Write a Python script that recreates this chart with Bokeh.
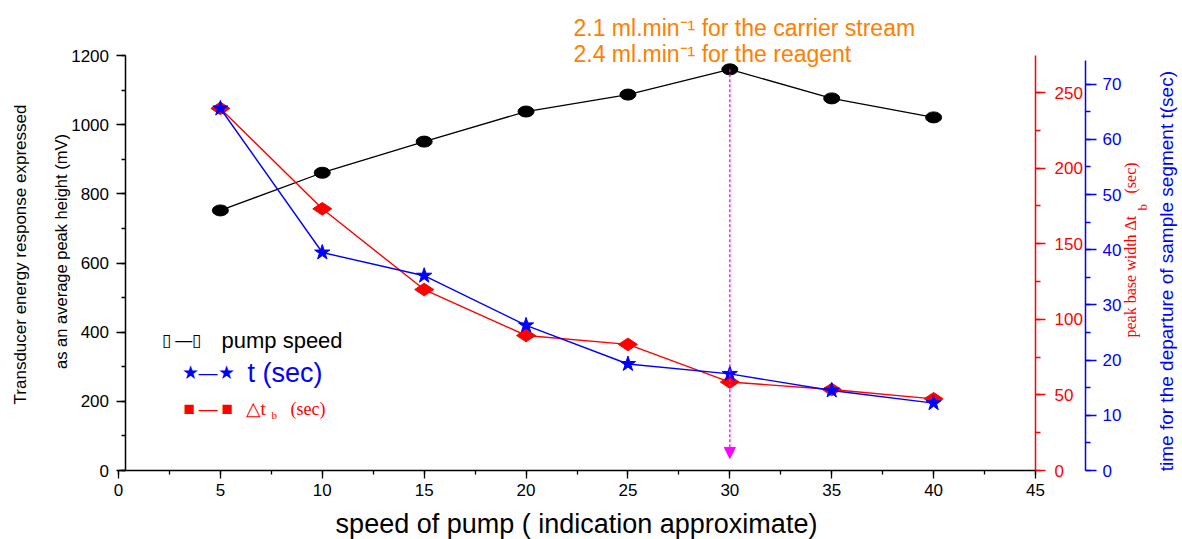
import numpy as np
from bokeh.plotting import figure
from bokeh.models import (Range1d, LinearAxis, SingleIntervalTicker, Label,
                          Arrow, NormalHead)
from bokeh.embed import file_html
from bokeh.resources import INLINE

# ---------------- data ----------------
speed = [5, 10, 15, 20, 25, 30, 35, 40]                       # speed of pump
pump_mv = [752, 861, 951, 1038, 1087, 1160, 1076, 1021]       # peak height (mV)
peak_width_s = [239.5, 173.1, 119.7, 89.3, 83.4, 58.5, 53.6, 47.4]  # Δt_b (sec)
t_sec = [65.6, 39.5, 35.3, 26.3, 19.3, 17.5, 14.5, 12.2]      # t (sec)

arrow_x = 30
arrow_top = 1160
arrow_bottom = 35

x_bounds = (0, 45)
left_bounds = (0, 1200)
red_bounds = (0, 274.5)
blue_bounds = (0, 74.3)

x_tick_step = 5
left_tick_step = 200
red_tick_step = 50
blue_tick_step = 10

x_title = "speed of pump ( indication approximate)"
left_title_1 = "Transducer energy response expressed"
left_title_2 = "as an average peak height (mV)"
blue_title = "time for the departure of sample segment  t(sec)"
note_1 = "2.1 ml.min\u207b\u00b9 for the carrier stream"
note_2 = "2.4 ml.min\u207b\u00b9 for the reagent"

# ---------------- geometry (page pixels; the frame fills the whole page) ----------------
W, H = 1182, 539
X0_PX, X45_PX, Y0_PX, YTOP_PX = 118.0, 1035.0, 470.0, 55.0
def dx(px):
    return (px - X0_PX) * 45.0 / (X45_PX - X0_PX)
def dy(py, top=1200.0):
    return (Y0_PX - py) * top / (Y0_PX - YTOP_PX)

RED_TOP, BLUE_TOP = 274.5, 75.2

SANS = "Liberation Sans"
SERIF = "Liberation Serif"

p = figure(width=W, height=H, x_range=Range1d(dx(0), dx(W)),
           y_range=Range1d(dy(H), dy(0)),
           output_backend="svg", toolbar_location=None,
           min_border=0, min_border_left=0, min_border_right=0,
           min_border_top=0, min_border_bottom=0)
p.extra_y_ranges = {"red": Range1d(dy(H, RED_TOP), dy(0, RED_TOP)),
                    "blue": Range1d(dy(H, BLUE_TOP), dy(0, BLUE_TOP))}
p.xgrid.visible = False
p.ygrid.visible = False
p.outline_line_color = None

def style_axis(ax, color, tick_out, minor_out, standoff):
    ax.axis_line_color = color
    ax.axis_line_width = 1.5
    ax.major_tick_line_color = color
    ax.minor_tick_line_color = color
    ax.major_tick_line_width = 1.3
    ax.minor_tick_line_width = 1.3
    ax.major_tick_in = 0
    ax.major_tick_out = tick_out
    ax.minor_tick_in = 0
    ax.minor_tick_out = minor_out
    ax.major_label_text_color = color
    ax.major_label_text_font = SANS
    ax.major_label_text_font_size = "17px"
    ax.major_label_standoff = standoff

xa = p.xaxis[0]
xa.ticker = SingleIntervalTicker(interval=x_tick_step, num_minor_ticks=2)
xa.bounds = x_bounds
xa.fixed_location = 0
style_axis(xa, "black", 8, 4, 5)

ya = p.yaxis[0]
ya.ticker = SingleIntervalTicker(interval=left_tick_step, num_minor_ticks=2)
ya.bounds = left_bounds
ya.fixed_location = dx(124.5)
style_axis(ya, "black", 9, 4, 7)

red_axis = LinearAxis(y_range_name="red", bounds=red_bounds, fixed_location=45,
                      ticker=SingleIntervalTicker(interval=red_tick_step, num_minor_ticks=2))
style_axis(red_axis, "red", 10, 5, 9)
p.add_layout(red_axis, "right")

blue_axis = LinearAxis(y_range_name="blue", bounds=blue_bounds, fixed_location=dx(1085),
                       ticker=SingleIntervalTicker(interval=blue_tick_step, num_minor_ticks=2))
style_axis(blue_axis, "blue", 11, 5, 6)
p.add_layout(blue_axis, "right")

# ---------------- series ----------------
p.line(speed, pump_mv, line_color="black", line_width=1.3)
p.ellipse(x=speed, y=pump_mv, width=16, height=11, width_units="screen",
          height_units="screen", fill_color="black", line_color="black")

p.line(speed, peak_width_s, y_range_name="red", line_color="red", line_width=1.4)
p.scatter(speed, peak_width_s, y_range_name="red", marker="diamond", angle=np.pi / 2,
          size=19, fill_color="red", line_color="red")

p.line(speed, t_sec, y_range_name="blue", line_color="blue", line_width=1.4)
p.scatter(speed, t_sec, y_range_name="blue", marker="star", size=16,
          fill_color="blue", line_color="blue")

p.add_layout(Arrow(end=NormalHead(size=11, fill_color="#FF00FF", line_color="#FF00FF"),
                   x_start=arrow_x, y_start=arrow_top, x_end=arrow_x, y_end=arrow_bottom,
                   line_color="#FF00FF", line_width=1.3, line_dash="3 2"))

def lab(px, py, text, size, color="black", font=SANS, align="left", angle=0.0,
        baseline="middle"):
    p.add_layout(Label(x=dx(px), y=dy(py), text=text, text_font=font,
                       text_font_size=f"{size}px", text_color=color, text_align=align,
                       text_baseline=baseline, angle=angle))

UP = np.pi / 2

# axis titles
lab(576, 523, x_title, 27, align="center")
lab(20, 254, left_title_1, 17, align="center", angle=UP)
lab(60, 251, left_title_2, 16.5, align="center", angle=UP)

lab(1130, 337, "peak base width \u0394t", 16, color="red", font=SERIF, angle=UP)
lab(1142, 210, "b", 13, color="red", font=SERIF, angle=UP)
lab(1130, 193, "(sec)", 16, color="red", font=SERIF, angle=UP)

lab(1166, 268, blue_title, 19, color="blue", align="center", angle=UP)

# annotation
lab(573, 27, note_1, 23, color="#FF8000")
lab(573, 53, note_2, 23, color="#FF8000")

# legend
lab(161, 340, "\u25af \u2014\u25af", 17)
lab(221, 340, "pump speed", 22)
lab(181, 372, "\u2605\u2014\u2605", 19, color="blue")
lab(247, 372, "t (sec)", 27, color="blue")
lab(183, 408, "\u25a0\u2009\u2014\u2009\u25a0", 19, color="red")
lab(245, 408, "\u25b3t", 19, color="red", font=SERIF)
lab(271, 414, "b", 11, color="red", font=SERIF)
lab(290, 408, "(sec)", 18, color="red", font=SERIF)

open("out.html", "w").write(file_html(p, INLINE))
